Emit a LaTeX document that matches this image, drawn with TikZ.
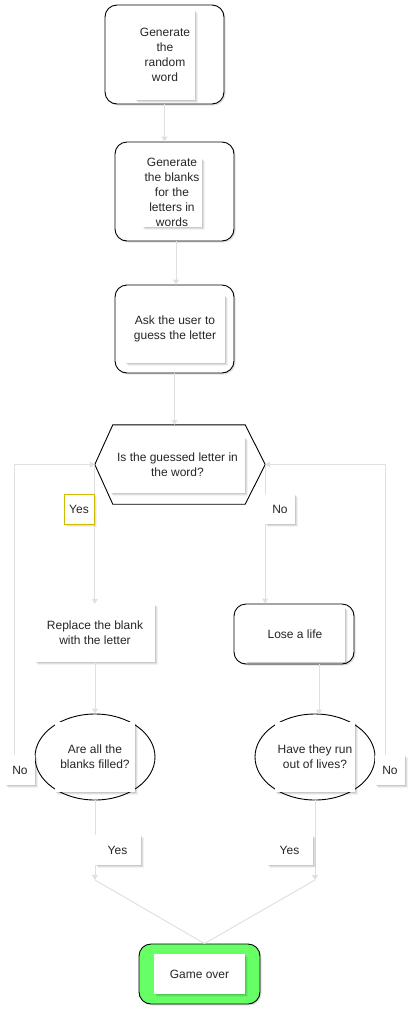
\documentclass[tikz,border=0pt]{standalone}
\usepackage{fontspec}
\setmainfont{Liberation Sans}
\usetikzlibrary{shadows,arrows.meta,shapes.geometric}
\definecolor{goGreen}{HTML}{66FF66}
\definecolor{yesYellow}{HTML}{CCBB00}
\begin{document}
\begin{tikzpicture}[x=1pt,y=-1pt,
  soft/.style={
    drop shadow={shadow xshift=1pt,shadow yshift=-1pt,opacity=0.10,fill=black},
    drop shadow={shadow xshift=2pt,shadow yshift=-2pt,opacity=0.08,fill=black},
    drop shadow={shadow xshift=3pt,shadow yshift=-3pt,opacity=0.05,fill=black}},
  outer/.style={draw=black, line width=0.9pt, rounded corners=12pt, fill=white, inner sep=0pt,
    drop shadow={shadow xshift=1.5pt,shadow yshift=-1.5pt,opacity=0.12,fill=black}},
  box/.style={fill=white, inner sep=0pt, soft},
  txt/.style={align=center, font=\fontsize{12}{15}\selectfont, text=black!85},
  conn/.style={draw=black!12, line width=1pt, -{Triangle[width=6pt,length=5pt]}},
  plain/.style={draw=black!12, line width=1pt},
  lbl/.style={box, txt, minimum height=30pt}]
\useasboundingbox (0,0) rectangle (410,1012);

% process nodes
\node[outer, minimum width=119pt, minimum height=99pt] (n1) at (164.5,54.5) {};
\node[box, txt, minimum width=60pt, minimum height=90pt] (n1t) at (165,55) {Generate\\the\\random\\word};

\node[outer, minimum width=119pt, minimum height=99pt] (n2) at (174.5,191.5) {};
\node[box, txt, minimum width=60pt, minimum height=63pt] (n2t) at (172,192.5) {Generate\\the blanks\\for the\\letters in\\words};

\node[outer, minimum width=119pt, minimum height=88pt] (n3) at (174.5,329) {};
\node[box, txt, minimum width=100pt, minimum height=68pt] (n3t) at (175,329) {Ask the user to\\guess the letter};

% decision hexagon
\node[minimum width=170pt, minimum height=79pt, inner sep=0pt] (hex) at (180,464.5) {};
\draw[line width=0.9pt, fill=white] (hex.west) -- ([xshift=18pt]hex.north west) -- ([xshift=-20pt]hex.north east)
  -- (hex.east) -- ([xshift=-20pt]hex.south east) -- ([xshift=18pt]hex.south west) -- cycle;
\node[box, txt, minimum width=135pt, minimum height=56pt] (hext) at (177.5,465) {Is the guessed letter in\\the word?};

% branches
\node[box, txt, minimum width=120pt, minimum height=58pt] (rep) at (95,633) {Replace the blank\\with the letter};
\node[outer, minimum width=120pt, minimum height=60pt] (lose) at (294,634) {};
\node[box, txt, minimum width=100pt, minimum height=55pt] (loset) at (295,634.5) {Lose a life};

\node[ellipse, draw, line width=0.9pt, fill=white, inner sep=0pt, minimum width=120pt, minimum height=86pt] (e1) at (95,757) {};
\node[box, txt, minimum width=80pt, minimum height=70pt] (e1t) at (95,757) {Are all the\\blanks filled?};
\node[ellipse, draw, line width=0.9pt, fill=white, inner sep=0pt, minimum width=120pt, minimum height=86pt] (e2) at (315,757) {};
\node[box, txt, minimum width=80pt, minimum height=70pt] (e2t) at (315,757) {Have they run\\out of lives?};

% game over
\node[outer, fill=goGreen, minimum width=121pt, minimum height=60pt] (go) at (199.5,974) {};
\node[box, txt, minimum width=91pt, minimum height=40pt] (got) at (199.5,974) {Game over};

% connectors
\draw[conn] (n1.south) -- (n1.south |- n2.north);
\draw[conn] ([xshift=1.5pt]n2.south) -- ([xshift=1.5pt]n2.south |- n3.north);
\draw[conn] (n3.south) -- (n3.south |- hex.north);
\draw[conn] (hex.west) -- (hex.west |- rep.north);
\draw[conn] (hex.east) -- (hex.east |- lose.north);
\draw[conn] (rep.south) -- (e1.north);
\coordinate (ls) at ([xshift=25pt]lose.south);
\draw[conn] (ls) -- ([yshift=-1pt]ls |- e2.north);
\draw[conn] (e1.west) -- ++(-20,0) |- (hex.west);
\draw[conn] (e2.east) -- ++(10,0) |- (hex.east);
\coordinate (j1) at (95,880);
\coordinate (j2) at (315,880);
\draw[conn] (e1.south) -- (j1);
\draw[conn] (e2.south) -- (j2);
\draw[plain] (j1) -- ([xshift=5pt]go.north);
\draw[plain] (j2) -- ([xshift=5pt]go.north);

% edge labels
\node[lbl, draw=yesYellow, line width=1pt, minimum width=30pt] (yes1) at (79,509) {Yes};
\node[lbl, minimum width=30pt] (no1) at (280,509) {No};
\node[lbl, minimum width=30pt] (no2) at (20,770) {No};
\node[lbl, minimum width=30pt] (no3) at (390,770) {No};
\node[lbl, minimum width=46pt] (yes2) at (117.5,850) {Yes};
\node[lbl, minimum width=46pt] (yes3) at (289.5,850) {Yes};
\end{tikzpicture}
\end{document}
